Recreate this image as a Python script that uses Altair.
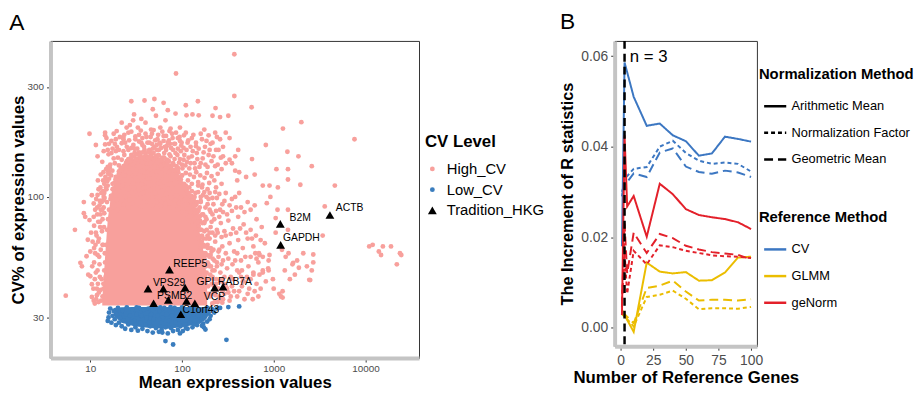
import altair as alt
import pandas as pd

# ---------------- Panel A data ----------------
# dense core of High_CV genes (envelope): mean, lower CV, upper CV
core_mean = [13.5, 14.5, 15.5, 17, 19, 22, 26, 33, 42, 52, 64, 78, 95, 112, 130, 150, 170, 188]
core_lo = [33.8] * 18
core_hi = [36, 55, 80, 104, 120, 133, 143, 150, 153, 150, 145, 136, 124, 108, 93, 76, 59, 44]

# dense core of Low_CV genes (envelope)
lowcore_mean = [18, 22, 30, 45, 70, 100, 140, 175, 200]
lowcore_lo = [30.5, 28.5, 27.5, 27.0, 26.8, 27.2, 28.0, 29.0, 31.0]
lowcore_hi = [33.0, 33.2, 33.3, 33.3, 33.3, 33.3, 33.3, 33.2, 33.0]

high_far = [(372, 416), (86, 343), (372, 274), (9.8, 188), (5.4, 37.3), (6.8, 72), (8.5, 85), (28, 260),
            (39, 262), (50, 266), (63, 256), (149, 260), (574, 245), (232, 243), (2000, 211), (1260, 198),
            (7600, 178), (820, 168), (1410, 157), (1860, 150), (2600, 136), (4640, 112), (1950, 113),
            (3600, 91), (3420, 68), (11000, 61), (12000, 62), (15500, 61), (19000, 61), (14800, 56),
            (14000, 58), (24600, 56), (23800, 57), (22000, 51), (1250, 36.6), (2500, 43.6), (2700, 56.3),
            (1630, 51.8), (1880, 49.3), (14.5, 185)]

high_top1 = [(14.5, 190), (18, 188), (22, 210), (27, 205), (30, 228), (33, 200), (36, 218), (40, 210), (46, 196),
             (52, 225), (58, 200), (66, 215), (75, 198), (85, 230), (95, 200), (112, 226), (130, 228), (152, 226),
             (175, 196), (215, 225), (260, 222), (320, 225), (300, 190), (48, 240), (70, 238), (110, 250)]

high_top2 = [(11.5, 168), (15, 180), (17, 175), (19.5, 165), (21, 182), (24, 172), (26, 190), (28, 163), (31, 178),
             (34, 186), (37, 168), (41, 182), (44, 172), (47, 188), (50, 165), (54, 178), (58, 170), (63, 184),
             (68, 166), (72, 176), (78, 188), (84, 170), (90, 180), (98, 167), (105, 185), (115, 172), (128, 180),
             (142, 166), (160, 188), (185, 175), (205, 170), (240, 182), (280, 165), (330, 180), (250, 160), (230, 190)]

high_top3 = [(12, 150), (13.5, 142), (15.5, 135), (17, 155), (18.5, 140), (20, 148), (21.5, 133), (23, 158),
             (25, 143), (26.5, 136), (28, 152), (30, 140), (32, 131), (34, 156), (36, 145), (38, 135), (40, 150),
             (42, 140), (45, 157), (47, 133), (49, 146), (52, 138), (55, 152), (58, 142), (61, 132), (64, 155),
             (68, 145), (71, 136), (75, 150), (80, 140), (85, 155), (90, 134), (95, 146), (100, 138), (106, 152),
             (113, 142), (120, 133), (128, 150), (137, 140), (145, 155), (155, 135), (168, 147), (180, 138),
             (195, 152), (210, 143), (230, 136), (265, 148), (300, 140), (380, 150), (420, 128), (350, 140),
             (22, 130), (44, 131), (76, 131)]

high_top4 = [(13, 125), (14.5, 118), (16, 128), (17.5, 114), (19, 122), (20.5, 129), (22, 116), (23.5, 124),
             (25, 113), (26.5, 127), (28, 119), (29.5, 114), (31, 126), (33, 118), (35, 129), (36.5, 113), (38, 122),
             (40, 116), (42, 128), (44, 120), (46, 113), (48, 125), (50, 118), (53, 129), (55, 114), (57, 122),
             (60, 127), (63, 116), (66, 124), (69, 113), (72, 128), (75, 119), (79, 125), (83, 114), (87, 122),
             (91, 128), (95, 116), (100, 124), (105, 113), (110, 127), (116, 118), (122, 125), (128, 114), (135, 122),
             (143, 128), (150, 116), (158, 124), (167, 113), (176, 121), (187, 127), (198, 115), (210, 123),
             (225, 118), (245, 126), (270, 114), (190, 108), (175, 105), (160, 100), (230, 105), (15, 108),
             (14, 100), (13, 96)]

high_top5 = [(15.5, 160), (16.5, 138), (18, 147), (19, 158), (20.5, 137), (22, 145), (23.5, 152), (25, 136),
             (26, 160), (27.5, 147), (29, 138), (30.5, 162), (32, 146), (33.5, 137), (35, 152), (37, 141), (39, 160),
             (41, 134), (43, 148), (46, 140), (48, 162), (50, 134), (52, 150), (54, 141), (56, 160), (59, 136),
             (62, 148), (65, 138), (67, 160), (70, 144), (73, 153), (77, 137), (80, 160), (83, 146), (87, 136),
             (89, 152), (93, 141), (97, 158), (101, 133), (104, 145), (109, 137), (112, 160), (118, 148), (124, 140),
             (131, 158), (139, 133), (147, 146), (160, 140), (172, 156), (190, 135), (200, 160), (220, 150),
             (245, 138), (270, 132), (18.5, 170), (23, 178), (36, 172), (53, 168), (74, 170), (95, 175)]

high_top6 = [(14, 158), (16, 170), (17.5, 162), (19, 178), (20.5, 160), (22, 171), (23.5, 186), (25, 165),
             (26.5, 176), (28, 192), (29.5, 168), (31, 183), (32.5, 162), (34, 174), (35.5, 194), (37, 180),
             (38.5, 165), (40, 188), (42, 172), (44, 160), (45.5, 182), (47, 170), (49, 195), (51, 176), (53, 160),
             (55, 186), (57, 172), (59, 163), (61, 192), (63, 175), (65, 165), (67, 184), (70, 172), (73, 193),
             (76, 163), (79, 180), (82, 170), (86, 190), (90, 162), (94, 182), (99, 172), (104, 163), (110, 190),
             (117, 176), (124, 165), (133, 186), (142, 172), (152, 162), (165, 178), (178, 165), (195, 185),
             (215, 172), (235, 160), (260, 178)]

core_rim = [(14.8, 62), (15.2, 72), (16, 88), (16.6, 98), (17.5, 108), (18.3, 115), (19.5, 122), (20.5, 126),
            (21.5, 131), (23, 136), (24.5, 140), (26, 146), (28, 147), (30, 150), (32, 153), (34.5, 151), (37, 156),
            (40, 154), (43, 157), (46, 152), (49, 155), (52, 150), (56, 151), (60, 146), (64, 148), (68, 141),
            (72, 143), (76, 136), (80, 138), (85, 130), (90, 131), (95, 122), (100, 124), (105, 114), (110, 112),
            (116, 104), (122, 101), (128, 94), (134, 92), (140, 85), (146, 82), (152, 75), (158, 72), (164, 64),
            (170, 61), (176, 54), (182, 50), (188, 44), (193, 41), (14.2, 48), (13.9, 42), (13.6, 37), (198, 38),
            (14.4, 57), (15.6, 80), (17, 101), (18.8, 119), (22.2, 133), (27, 142), (35, 148), (45, 150),
            (58, 144), (70, 138), (82, 131), (97, 119), (112, 106), (125, 96), (137, 88), (149, 78), (161, 67),
            (173, 57), (185, 47)]

high_mid = [(14.2, 104), (15.5, 112), (16.8, 101), (18, 109), (19.5, 97), (21, 106), (22.5, 112), (24, 100),
            (25.5, 108), (27, 97), (28.5, 104), (30, 110), (32, 101), (34, 107), (36, 99), (38, 104), (40, 110),
            (43, 101), (45, 107), (48, 99), (51, 104), (54, 110), (57, 100), (60, 106), (64, 98), (67, 103),
            (71, 108), (75, 99), (79, 104), (84, 96), (88, 101), (93, 94), (97, 99), (102, 92), (108, 97),
            (114, 89), (118, 95), (124, 86), (131, 91), (136, 80), (142, 85), (150, 74), (157, 79), (165, 68),
            (172, 62), (180, 57), (190, 52), (15.2, 95), (17.5, 90), (20, 88), (23, 93), (26, 90), (29, 94),
            (35, 91), (41, 95), (47, 92), (53, 95), (59, 91), (66, 94), (73, 90), (81, 93), (90, 88), (100, 86),
            (110, 84), (120, 79), (130, 76), (140, 70), (150, 66), (160, 61), (170, 55)]

high_right = [(130, 100), (140, 92), (150, 88), (160, 95), (170, 84), (180, 90), (195, 98), (205, 86), (220, 93),
              (240, 99), (260, 88), (290, 96), (330, 92), (380, 100), (440, 90), (520, 95),
              (130, 75), (145, 79), (160, 72), (175, 77), (190, 68), (205, 74), (225, 80), (245, 70), (265, 77),
              (290, 71), (320, 79), (360, 73), (410, 82), (470, 76), (560, 72), (650, 80), (740, 74),
              (160, 60), (175, 56), (190, 62), (210, 58), (230, 64), (250, 55), (275, 61), (300, 57), (330, 63),
              (370, 58), (410, 65), (460, 60), (520, 66), (600, 61), (690, 57), (800, 63), (900, 56),
              (180, 46), (200, 50), (220, 44), (240, 52), (262, 47), (285, 42), (310, 49), (340, 45), (380, 53),
              (420, 47), (470, 43), (530, 50), (600, 46), (680, 52), (760, 47), (870, 49), (980, 44),
              (200, 37), (230, 39), (260, 36), (290, 38), (330, 35.5), (370, 39), (400, 37), (450, 41), (520, 38),
              (590, 36), (1000, 40), (1150, 38),
              (1050, 81), (1050, 70), (1430, 72), (1430, 88), (1230, 59), (1350, 55), (1450, 57), (1600, 51),
              (1700, 46), (1500, 44), (1320, 48), (880, 48), (880, 53), (700, 56), (650, 54), (600, 47), (700, 46),
              (760, 48), (540, 40), (460, 43), (440, 45), (1250, 39), (1200, 37), (840, 94), (920, 100), (1110, 110),
              (760, 112), (900, 112), (1430, 119), (1430, 132), (1070, 132), (580, 146), (400, 118), (500, 122),
              (620, 125), (380, 130), (280, 150), (330, 145), (410, 160), (1100, 88), (2440, 43.7), (1800, 53),
              (2100, 57), (2300, 50), (2600, 48), (2700, 52)]

high_right2 = [(150, 105), (165, 110), (185, 100), (200, 104), (215, 99), (235, 110), (255, 103), (275, 93),
               (300, 104), (350, 98), (420, 104), (145, 85), (155, 82), (185, 80), (200, 88), (215, 84), (235, 87),
               (255, 82), (280, 86), (310, 84), (350, 87), (390, 90), (480, 86), (560, 88), (620, 92),
               (200, 66), (215, 70), (240, 72), (270, 67), (300, 68), (340, 69), (390, 70), (430, 73), (500, 70),
               (580, 66), (640, 68), (720, 65), (205, 56), (225, 53), (255, 59), (280, 53), (320, 54), (355, 51),
               (400, 57), (440, 53), (490, 55), (560, 55), (630, 57), (760, 55), (215, 48), (235, 42), (270, 44),
               (300, 41), (360, 44), (400, 48), (450, 48), (510, 45), (560, 44), (650, 42), (720, 40), (820, 43),
               (250, 40), (280, 36), (320, 38.5), (350, 41), (420, 39), (480, 36), (620, 39), (680, 37)]

high_left = [(7.8, 51.8), (8.1, 50), (10, 45.3), (10.4, 41.8), (10.9, 35.5), (13.1, 35.5), (10.4, 36.8), (9.1, 55.3),
             (9.4, 65.2), (8.5, 95), (8.8, 82), (9.8, 79.4), (10.9, 93.7), (10.4, 101.7), (13.9, 96.8), (11, 60),
             (11.5, 70), (12, 48), (11.8, 40), (12.5, 55), (12.8, 78), (11.3, 88), (10.5, 50), (12.2, 64), (10, 58),
             (11.2, 44), (12.7, 45), (9.5, 46), (11.6, 36), (12.4, 38.5), (13, 88), (12, 102), (11, 75), (10.2, 70),
             (14.5, 169), (15.8, 153), (15.6, 130), (19.4, 193), (22.9, 181), (24.9, 200), (29.3, 215), (30.5, 156),
             (37.6, 148), (13.6, 62), (14.2, 85), (12.9, 110), (13.8, 118), (11.9, 84), (12.6, 92)]

edge_left = [(11.2, 34.5), (11.8, 37.5), (12.3, 35), (12.1, 42), (12.9, 39.5), (11.5, 47), (12.6, 51), (13.3, 44),
             (12.0, 56), (13.0, 59), (12.4, 66), (13.4, 71), (12.8, 74), (13.6, 80), (12.9, 84), (14.0, 90),
             (13.3, 95), (14.3, 99), (13.7, 106), (14.8, 110), (14.2, 114), (15.3, 117), (14.6, 122), (16.0, 120),
             (15.7, 126), (16.9, 124), (11.0, 52), (11.4, 62), (11.7, 68), (12.2, 78), (12.7, 96), (13.2, 104),
             (13.9, 128), (10.8, 40), (11.3, 57), (11.9, 90), (12.3, 108), (14.9, 132), (16.3, 134), (17.4, 130),
             (10.6, 64), (10.9, 82), (11.6, 98), (12.1, 118), (13.5, 88), (14.1, 74), (13.8, 62), (14.5, 52),
             (13.9, 40), (14.7, 45)]

edge_right = [(118, 104), (122, 97), (126, 101), (131, 92), (135, 96), (139, 88), (143, 93), (147, 82), (151, 87),
              (155, 78), (159, 83), (163, 72), (167, 77), (171, 66), (175, 71), (179, 61), (183, 66), (187, 56),
              (191, 60), (195, 51), (199, 55), (203, 46), (207, 50), (211, 42), (215, 45), (219, 38), (223, 41),
              (227, 35), (231, 37.5), (120, 110), (128, 106), (137, 100), (146, 95), (156, 90), (166, 84),
              (176, 78), (186, 72), (196, 66), (206, 60), (216, 54), (226, 48), (236, 44), (246, 40), (256, 37),
              (112, 108), (140, 104), (160, 96), (180, 82), (200, 70), (220, 59), (240, 50), (260, 43), (276, 39),
              (150, 112), (170, 102), (190, 93), (210, 78), (230, 68), (250, 58), (270, 51), (290, 45), (310, 40),
              (340, 37), (214, 34.5), (245, 35), (275, 34.8), (190, 38), (180, 42)]

low_pts = [(15.5, 29), (15.8, 30), (16, 31.5), (16.5, 32.8), (17, 28.5), (17.5, 30.5), (18, 32), (18.5, 29.5),
           (19, 27.8), (19.5, 31), (20, 33), (20.5, 28.5), (21, 30), (22, 27.5), (22.5, 32), (23, 29), (24, 26.8),
           (24.5, 31), (25, 33.2), (26, 28), (27, 30.5), (28, 26.5), (29, 32.5), (30, 29), (31, 27.2), (32, 31),
           (33, 26.3), (34, 33), (35, 28.5), (36, 30.5), (37, 26.8), (38, 32.3), (40, 28), (41, 30), (42, 26.2),
           (43, 32.8), (45, 27.5), (46, 31), (48, 25.8), (49, 29.5), (51, 33), (52, 27), (54, 30.5), (56, 26),
           (57, 32), (59, 28.5), (61, 25.8), (62, 30), (64, 33), (66, 27.2), (68, 31), (70, 25.6), (72, 29),
           (74, 32.5), (76, 27), (78, 30.5), (80, 26.2), (83, 33), (85, 28.5), (88, 31.5), (90, 26.5), (93, 29.5),
           (96, 27.5), (99, 32.5), (102, 26.2), (105, 30), (108, 28), (112, 32), (115, 26.8), (118, 30.5),
           (122, 28.5), (126, 33), (130, 27.2), (134, 31), (138, 29), (142, 32.5), (146, 27.8), (150, 30.5),
           (155, 28.8), (160, 32), (165, 29.5), (170, 31.5), (176, 30), (182, 32.8), (188, 28.8), (195, 31.5),
           (205, 30.5), (215, 32.5), (225, 31.5), (240, 32.8), (260, 33), (320, 33.3), (420, 33.5), (66, 23.7),
           (80, 22.9), (305, 24), (135, 28), (60, 26.5), (44, 28.5), (95, 25.6), (110, 27), (190, 33), (200, 29.5),
           (170, 28.2), (28, 28.8), (32, 33.2), (58, 33.2), (75, 33.3), (100, 33.2), (125, 31.5), (173, 27.2),
           (180, 26.6), (165, 27.6)]

hkg_mean = [73, 42.6, 62.5, 108, 227, 280, 49, 71, 112, 138, 97, 1180, 1190, 4100]
hkg_cv = [48.4, 40.0, 40.0, 40.4, 40.4, 40.8, 34.6, 35.8, 35.4, 34.6, 31.0, 76.4, 62.0, 83.5]

label_text = ["REEP5", "VPS29", "GPI", "RAB7A", "PSMB2", "VCP", "C1orf43", "B2M", "GAPDH", "ACTB"]
label_mean = [80.4, 48.2, 144, 247, 53.5, 173, 101, 1490, 1260, 4750]
label_cv = [51.4, 42.5, 42.8, 42.8, 37.0, 36.9, 32.4, 80.7, 66.3, 89.2]

levels = ["High_CV", "Low_CV", "Tradition_HKG"]
PINK = "#F8A09C"
BLUE = "#3A7DBE"

# ---------------- Panel B data ----------------
n_genes = [1, 3, 5, 10, 20, 30, 40, 50, 60, 70, 80, 90, 100]
cv_am = [0.0180, 0.0586, None, 0.0510, 0.0446, 0.0451, 0.0425, 0.0412, 0.0380, 0.0385, 0.0422, 0.0417, 0.0411]
cv_nf = [0.0290, 0.0330, 0.0335, 0.0351, 0.0355, 0.0400, 0.0413, 0.0386, 0.0369, 0.0362, 0.0365, 0.0362, 0.0345]
cv_gm = [0.0300, 0.0318, 0.0322, 0.0341, 0.0333, 0.0387, 0.0396, 0.0356, 0.0344, 0.0340, 0.0347, 0.0343, 0.0333]
glmm_am = [0.0040, 0.0028, None, -0.0009, 0.0144, 0.0124, 0.0120, 0.0123, 0.0104, 0.0105, 0.0122, 0.0155, 0.0157]
glmm_nf = [0.0030, 0.0025, None, 0.0003, 0.0068, 0.0073, 0.0082, 0.0064, 0.0041, 0.0043, 0.0043, 0.0042, 0.0046]
glmm_gm = [0.0035, 0.0030, None, 0.0010, 0.0088, 0.0093, 0.0104, 0.0080, 0.0060, 0.0062, 0.0062, 0.0060, 0.0063]
genorm_am = [0.0028, 0.0425, 0.0268, 0.0291, 0.0201, 0.0318, 0.0295, 0.0262, 0.0249, 0.0244, 0.0240, 0.0233, 0.0218]
genorm_nf = [0.0060, 0.0165, 0.0075, 0.0170, 0.0140, 0.0182, 0.0178, 0.0170, 0.0165, 0.0160, 0.0158, 0.0157, 0.0154]
genorm_gm = [0.0045, 0.0230, 0.0120, 0.0210, 0.0165, 0.0207, 0.0198, 0.0181, 0.0173, 0.0167, 0.0164, 0.0161, 0.0151]

ref_methods = ["CV", "GLMM", "geNorm"]
norm_methods = ["Arithmetic Mean", "Normalization Factor", "Geometric Mean"]
ref_colors = ["#3C77C2", "#EBBD00", "#E3202A"]
chosen_n = [3]

FONT = "Liberation Sans"

# ---------------- build tables ----------------
high_all = (high_far + high_top1 + high_top2 + high_top3 + high_top4 + high_top5 + high_top6 + high_mid
            + high_right + high_right2 + high_left + edge_left + edge_right + core_rim)
df_high = pd.DataFrame(high_all, columns=["mean", "cv"])
df_high["level"] = "High_CV"
df_low = pd.DataFrame(low_pts, columns=["mean", "cv"])
df_low["level"] = "Low_CV"
df_hkg = pd.DataFrame({"mean": hkg_mean, "cv": hkg_cv})
df_hkg["level"] = "Tradition_HKG"
df_lowhkg = pd.concat([df_low, df_hkg], ignore_index=True)

df_core = pd.DataFrame({"mean": core_mean, "cv": core_lo, "cv2": core_hi})
df_lowcore = pd.DataFrame({"mean": lowcore_mean, "cv": lowcore_lo, "cv2": lowcore_hi})
df_labels = pd.DataFrame({"mean": label_mean, "cv": label_cv, "gene": label_text})

xA_scale = alt.Scale(type="log", domain=[3.68, 38400], nice=False)
yA_scale = alt.Scale(type="log", domain=[20, 475], nice=False)

xA_axis = alt.Axis(title="Mean expression values", values=[10, 100, 1000, 10000], format="d", grid=False,
                   labelFontSize=10, labelColor="#4D4D4D", labelFont=FONT, labelPadding=2,
                   titleFontSize=17, titleFontWeight="bold", titleFont=FONT, titleColor="black", titlePadding=1,
                   tickColor="#333333", tickSize=4, domainColor="#C4C4C4", domainWidth=4)
yA_axis = alt.Axis(title="CV% of expression values", values=[30, 100, 300], format="d", grid=False,
                   labelFontSize=10, labelColor="#4D4D4D", labelFont=FONT, labelPadding=3,
                   titleFontSize=17, titleFontWeight="bold", titleFont=FONT, titleColor="black", titlePadding=0,
                   tickColor="#333333", tickSize=4, domainColor="#C4C4C4", domainWidth=4)

legA = alt.Legend(title="CV Level", orient="none", legendX=379, legendY=94, titleFontSize=17, titleFont=FONT,
                  titleFontWeight="bold", titleColor="black", labelFontSize=15, labelFont=FONT, labelColor="black",
                  rowPadding=5, titlePadding=11, labelOffset=7, padding=0)


def point_enc(ch):
    return ch.encode(
        x=alt.X("mean:Q", scale=xA_scale, axis=xA_axis),
        y=alt.Y("cv:Q", scale=yA_scale, axis=yA_axis),
        color=alt.Color("level:N", scale=alt.Scale(domain=levels, range=[PINK, BLUE, "black"]), legend=legA),
        shape=alt.Shape("level:N", scale=alt.Scale(domain=levels, range=["circle", "circle", "triangle-up"]),
                        legend=legA),
        size=alt.Size("level:N", scale=alt.Scale(type="ordinal", domain=levels, range=[24, 24, 80]), legend=legA),
    )


core_area = alt.Chart(df_core).mark_area(color=PINK, interpolate="linear").encode(
    x=alt.X("mean:Q", scale=xA_scale, axis=xA_axis),
    y=alt.Y("cv:Q", scale=yA_scale, axis=yA_axis),
    y2="cv2:Q",
)
low_area = alt.Chart(df_lowcore).mark_area(color=BLUE, interpolate="linear").encode(
    x=alt.X("mean:Q", scale=xA_scale, axis=xA_axis),
    y=alt.Y("cv:Q", scale=yA_scale, axis=yA_axis),
    y2="cv2:Q",
)
high_layer = point_enc(alt.Chart(df_high).mark_point(filled=True, opacity=1, strokeWidth=0))
lowhkg_layer = point_enc(alt.Chart(df_lowhkg).mark_point(filled=True, opacity=1, strokeWidth=0))
labels_layer = alt.Chart(df_labels).mark_text(align="left", baseline="middle", fontSize=10.5, font=FONT,
                                               color="black").encode(
    x=alt.X("mean:Q", scale=xA_scale, axis=xA_axis),
    y=alt.Y("cv:Q", scale=yA_scale, axis=yA_axis),
    text="gene:N",
)

panelA = alt.layer(core_area, high_layer, low_area, lowhkg_layer, labels_layer).properties(
    width=373, height=321,
    title=alt.TitleParams("A", anchor="start", frame="bounds", fontSize=23, fontWeight="normal", font=FONT,
                          offset=6, color="black"),
)

# ---------------- Panel B ----------------
series = [
    ("CV", "Arithmetic Mean", cv_am), ("CV", "Normalization Factor", cv_nf), ("CV", "Geometric Mean", cv_gm),
    ("GLMM", "Arithmetic Mean", glmm_am), ("GLMM", "Normalization Factor", glmm_nf), ("GLMM", "Geometric Mean", glmm_gm),
    ("geNorm", "Arithmetic Mean", genorm_am), ("geNorm", "Normalization Factor", genorm_nf),
    ("geNorm", "Geometric Mean", genorm_gm),
]
rows = []
for ref, norm, vals in series:
    for n, v in zip(n_genes, vals):
        if v is not None:
            rows.append({"n": n, "value": v, "ref": ref, "norm": norm, "series": ref + "|" + norm})
df_lines = pd.DataFrame(rows)

xB_scale = alt.Scale(domain=[-4.6, 104.5], nice=False, zero=False)
yB_scale = alt.Scale(domain=[-0.00408, 0.06334], nice=False, zero=False)
xB_axis = alt.Axis(title="Number of Reference Genes", values=[0, 25, 50, 75, 100], grid=False,
                   labelFontSize=14, labelColor="#4D4D4D", labelFont=FONT, labelPadding=3,
                   titleFontSize=17, titleFontWeight="bold", titleFont=FONT, titleColor="black", titlePadding=3,
                   tickColor="#333333", tickSize=4, domainColor="#C4C4C4", domainWidth=4)
yB_axis = alt.Axis(title="The Increment of R statistics", values=[0, 0.02, 0.04, 0.06], format=".2f", grid=False,
                   labelFontSize=14, labelColor="#4D4D4D", labelFont=FONT, labelPadding=3,
                   titleFontSize=16.5, titleFontWeight="bold", titleFont=FONT, titleColor="black", titlePadding=5,
                   tickColor="#333333", tickSize=4, domainColor="#C4C4C4", domainWidth=4)

legB_common = dict(orient="none", legendX=146, titleFontSize=15, titleFont=FONT, titleFontWeight="bold",
                   titleColor="black", labelFontSize=13, labelFont=FONT, labelColor="black", rowPadding=7,
                   titlePadding=12, symbolType="stroke", symbolSize=500, symbolStrokeWidth=2.5,
                   symbolOffset=4, labelOffset=4, padding=0)

lines = alt.Chart(df_lines).mark_line(strokeWidth=2).encode(
    x=alt.X("n:Q", scale=xB_scale, axis=xB_axis),
    y=alt.Y("value:Q", scale=yB_scale, axis=yB_axis),
    color=alt.Color("ref:N", scale=alt.Scale(domain=ref_methods, range=ref_colors),
                    legend=alt.Legend(title="Reference Method", legendY=171.5, **legB_common)),
    strokeDash=alt.StrokeDash("norm:N", scale=alt.Scale(domain=norm_methods, range=[[1, 0], [4, 3], [9, 5]]),
                              legend=alt.Legend(title="Normalization Method", legendY=26.5,
                                                symbolStrokeColor="black", **legB_common)),
    detail="series:N",
    order="n:Q",
)
rule = alt.Chart(pd.DataFrame({"n": chosen_n})).mark_rule(color="black", strokeWidth=2.5, strokeDash=[8, 5]).encode(
    x=alt.X("n:Q", scale=xB_scale, axis=xB_axis),
)
ntext = alt.Chart(pd.DataFrame({"n": [7], "value": [0.0598], "t": ["n = 3"]})).mark_text(
    align="left", baseline="middle", fontSize=17, font=FONT, color="black").encode(
    x=alt.X("n:Q", scale=xB_scale, axis=xB_axis),
    y=alt.Y("value:Q", scale=yB_scale, axis=yB_axis),
    text="t:N",
)

panelB = alt.layer(lines, rule, ntext).properties(
    width=144, height=309,
    title=alt.TitleParams("B", anchor="start", frame="bounds", fontSize=23, fontWeight="normal", font=FONT,
                          offset=6, color="black"),
)

chart = alt.hconcat(panelA, panelB, spacing=14).resolve_scale(
    x="independent", y="independent", color="independent", shape="independent", size="independent",
    strokeDash="independent"
).resolve_legend(
    color="independent", shape="independent", size="independent", strokeDash="independent"
).properties(
    padding={"left": 0, "top": 0, "right": 0, "bottom": 0}
).configure_view(stroke="#333333", strokeWidth=1)

chart.save("out.html", embed_options={"renderer": "svg", "actions": False})
